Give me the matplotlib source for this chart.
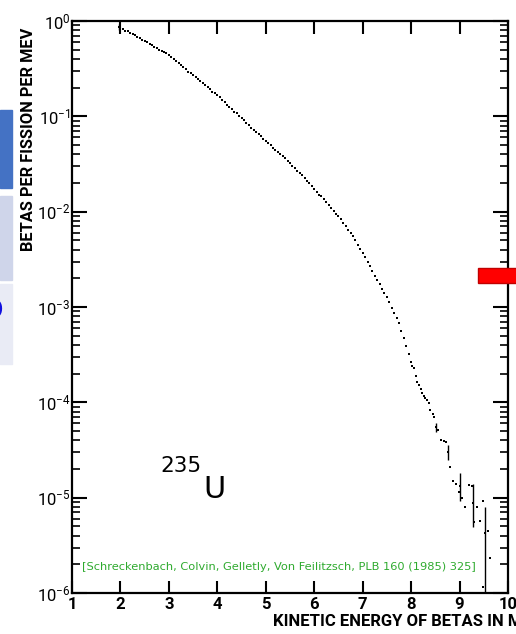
import numpy as np
import matplotlib.pyplot as plt
from matplotlib.patches import Rectangle

plt.rcParams['mathtext.fontset'] = 'custom'
plt.rcParams['mathtext.rm'] = 'Roboto'
plt.rcParams['mathtext.it'] = 'Roboto'

# Spectre des betas de 235U, energie en MeV, log10 du flux
energy = [2.00, 2.05, 2.10, 2.15, 2.20, 2.25, 2.30, 2.35, 2.40, 2.45,
          2.50, 2.55, 2.60, 2.65, 2.70, 2.75, 2.80, 2.85, 2.90, 2.95,
          3.00, 3.05, 3.10, 3.15, 3.20, 3.25, 3.30, 3.35, 3.40, 3.45,
          3.50, 3.55, 3.60, 3.65, 3.70, 3.75, 3.80, 3.85, 3.90, 3.95,
          4.00, 4.05, 4.10, 4.15, 4.20, 4.25, 4.30, 4.35, 4.40, 4.45,
          4.50, 4.55, 4.60, 4.65, 4.70, 4.75, 4.80, 4.85, 4.90, 4.95,
          5.00, 5.05, 5.10, 5.15, 5.20, 5.25, 5.30, 5.35, 5.40, 5.45,
          5.50, 5.55, 5.60, 5.65, 5.70, 5.75, 5.80, 5.85, 5.90, 5.95,
          6.00, 6.05, 6.10, 6.15, 6.20, 6.25, 6.30, 6.35, 6.40, 6.45,
          6.50, 6.55, 6.60, 6.65, 6.70, 6.75, 6.80, 6.85, 6.90, 6.95,
          7.00, 7.05, 7.10, 7.15, 7.20, 7.25, 7.30, 7.35, 7.40, 7.45,
          7.50, 7.55, 7.60, 7.65, 7.70, 7.75, 7.80, 7.85, 7.90, 7.95,
          8.00, 8.02, 8.05, 8.10, 8.13, 8.17, 8.20, 8.23, 8.26, 8.29,
          8.33, 8.36, 8.40, 8.45, 8.48, 8.56, 8.62, 8.68, 8.71,
          8.81, 8.87, 8.93, 8.99, 9.05, 9.12, 9.19, 9.26, 9.30,
          9.37, 9.43, 9.49, 9.58, 9.62, 9.49]
flux_log = [-0.07, -0.08, -0.10, -0.11, -0.13, -0.14, -0.15, -0.17, -0.18, -0.20,
            -0.21, -0.22, -0.24, -0.25, -0.27, -0.28, -0.30, -0.31, -0.33, -0.34,
            -0.36, -0.38, -0.40, -0.42, -0.44, -0.46, -0.48, -0.50, -0.53, -0.55,
            -0.57, -0.59, -0.61, -0.63, -0.65, -0.67, -0.69, -0.71, -0.74, -0.76,
            -0.78, -0.80, -0.83, -0.85, -0.88, -0.90, -0.92, -0.95, -0.97, -1.00,
            -1.02, -1.04, -1.07, -1.09, -1.12, -1.14, -1.16, -1.19, -1.21, -1.24,
            -1.26, -1.28, -1.30, -1.33, -1.35, -1.37, -1.39, -1.42, -1.44, -1.47,
            -1.49, -1.52, -1.54, -1.57, -1.59, -1.62, -1.65, -1.68, -1.70, -1.73,
            -1.76, -1.79, -1.82, -1.84, -1.87, -1.90, -1.93, -1.96, -1.99, -2.02,
            -2.05, -2.08, -2.12, -2.15, -2.19, -2.22, -2.26, -2.30, -2.35, -2.39,
            -2.43, -2.48, -2.53, -2.57, -2.62, -2.67, -2.72, -2.76, -2.81, -2.85,
            -2.90, -2.95, -3.01, -3.06, -3.12, -3.17, -3.25, -3.33, -3.41, -3.49,
            -3.58, -3.62, -3.64, -3.72, -3.79, -3.82, -3.86, -3.90, -3.93, -3.95,
            -3.98, -4.01, -4.08, -4.12, -4.15, -4.29, -4.40, -4.41, -4.42,
            -4.68, -4.82, -4.86, -4.94, -5.00, -5.10, -4.87, -4.88, -5.26,
            -5.10, -5.24, -5.04, -5.35, -5.63, -5.94]

# points avec barres d'erreur (log10 : valeur, bas, haut)
err_energy = [1.97, 8.52, 8.77, 9.01, 9.27, 9.52]
err_log = [-0.06, -4.26, -4.52, -4.88, -5.06, -5.37]
err_low = [-0.09, -4.31, -4.61, -5.03, -5.31, -6.00]
err_high = [-0.03, -4.22, -4.45, -4.74, -4.86, -5.10]

W, H = 516, 634
fig = plt.figure(figsize=(W / 100, H / 100), dpi=100)
ax = fig.add_axes([72 / W, 41 / H, 436 / W, 572 / H])

flux = 10.0 ** np.array(flux_log)
ax.plot(energy, flux, ls='none', marker='s', ms=1.6, color='black', mew=0)

ey = 10.0 ** np.array(err_log)
lo = ey - 10.0 ** np.array(err_low)
hi = 10.0 ** np.array(err_high) - ey
ax.errorbar(err_energy, ey, yerr=[lo, hi], fmt='s', ms=2, color='black',
            elinewidth=1.0, capsize=2, capthick=1.0, mew=0)

ax.set_yscale('log')
ax.set_xlim(1, 10)
ax.set_ylim(1e-6, 1)

for s in ax.spines.values():
    s.set_linewidth(1.6)

font = 'Roboto'
ax.set_xticks(range(1, 11))
ax.set_xticklabels([str(i) for i in range(1, 11)], family=font,
                   fontsize=12, fontweight='bold')
ax.tick_params(axis='x', which='major', direction='in', length=9, width=1.5,
               top=True, pad=3)
ax.tick_params(axis='y', which='major', direction='in', length=11, width=1.5,
               right=True, pad=1)
ax.tick_params(axis='y', which='minor', direction='in', length=6, width=1.2,
               right=True)
ax.set_yticks([1e-6, 1e-5, 1e-4, 1e-3, 1e-2, 1e-1, 1])
ax.set_yticklabels(['$10^{-6}$', '$10^{-5}$', '$10^{-4}$', '$10^{-3}$',
                    '$10^{-2}$', '$10^{-1}$', '$10^{0}$'], fontsize=12)

fig.text(29 / W, 1 - 139 / H, 'BETAS PER FISSION PER MEV', rotation=90,
         ha='center', va='center', fontsize=11.8, fontweight='bold',
         family=font)
fig.text(273 / W, 1 - 622 / H, 'KINETIC ENERGY OF BETAS IN MEV',
         ha='left', va='center', fontsize=12, fontweight='bold',
         family=font)

fig.text(160 / W, 1 - 466 / H, '235', fontsize=15.5, ha='left', va='center')
fig.text(203 / W, 1 - 489 / H, 'U', fontsize=22, ha='left', va='center')

fig.text(82 / W, 1 - 567 / H,
         '[Schreckenbach, Colvin, Gelletly, Von Feilitzsch, PLB 160 (1985) 325]',
         fontsize=8.2, color='#2EAA2E', ha='left', va='center')

# decor de la diapo autour de la figure
fig.patches.append(Rectangle((0, 1 - 188 / H), 12 / W, 78 / H,
                             transform=fig.transFigure, color='#4472C4'))
fig.patches.append(Rectangle((0, 1 - 280 / H), 12 / W, 84 / H,
                             transform=fig.transFigure, color='#CFD5EA'))
fig.patches.append(Rectangle((0, 1 - 364 / H), 12 / W, 80 / H,
                             transform=fig.transFigure, color='#E9EBF5'))
fig.text(3 / W, 1 - 311 / H, 'O', fontsize=20, fontweight='bold',
         color='#1010E0', ha='right', va='center')
fig.patches.append(Rectangle((478 / W, 1 - 283 / H), 40 / W, 15 / H,
                             transform=fig.transFigure, facecolor='#FF0000',
                             edgecolor='#C00000', linewidth=1))

fig.savefig('out.png', dpi=100)
